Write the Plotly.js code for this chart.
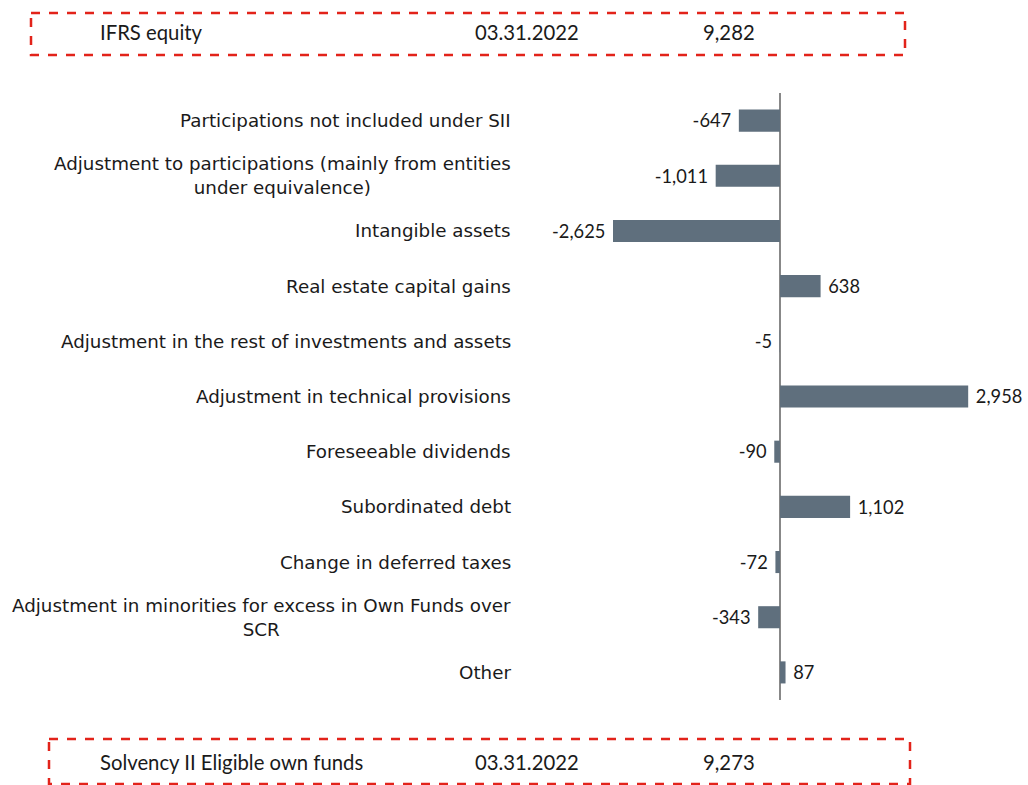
<!DOCTYPE html>
<html><head><meta charset="utf-8">
<script src="https://cdn.plot.ly/plotly-3.0.1.min.js"></script>
<style>html,body{margin:0;padding:0;background:#fff}#chart{width:1028px;height:785px}</style>
</head><body><div id="chart"></div>
<script>
const categories = [
  "Participations not included under SII",
  "Adjustment to participations (mainly from entities<br>under equivalence)",
  "Intangible assets",
  "Real estate capital gains",
  "Adjustment in the rest of investments and assets",
  "Adjustment in technical provisions",
  "Foreseeable dividends",
  "Subordinated debt",
  "Change in deferred taxes",
  "Adjustment in minorities for excess in Own Funds over<br>SCR",
  "Other"
];
const values = [-647, -1011, -2625, 638, -5, 2958, -90, 1102, -72, -343, 87];
const valueLabels = ["-647", "-1,011", "-2,625", "638", "-5", "2,958", "-90", "1,102", "-72", "-343", "87"];

const topBoxLabels = ["IFRS equity", "03.31.2022", "9,282"];
const bottomBoxLabels = ["Solvency II Eligible own funds", "03.31.2022", "9,273"];

// layout geometry (pixels)
const W = 1028, H = 785;
const mL = 540, mR = 40, mT = 93, mB = 85;
const pw = W - mL - mR, ph = H - mT - mB;
const px = x => (x - mL) / pw;
const py = y => (H - mB - y) / ph;

const labelFont = {family: "DejaVu Sans", size: 18.3, color: "#1a1a1a"};
const numFont = {family: "Lato, sans-serif", size: 21.5, color: "#1a1a1a"};
const boxFont = {family: "Lato, sans-serif", size: 20.3, color: "#1a1a1a"};

const annotations = categories.map((c, i) => ({
  xref: "paper", yref: "y", x: px(513), y: c, text: c,
  xanchor: "right", yanchor: "middle", align: "center",
  showarrow: false, font: labelFont
}));

const boxTextX = [100, 475, 703];
topBoxLabels.forEach((t, i) => annotations.push({
  xref: "paper", yref: "paper", x: px(boxTextX[i] - 2), y: py(32), text: t,
  xanchor: "left", yanchor: "middle", showarrow: false, font: boxFont
}));
bottomBoxLabels.forEach((t, i) => annotations.push({
  xref: "paper", yref: "paper", x: px(boxTextX[i] - 2), y: py(762), text: t,
  xanchor: "left", yanchor: "middle", showarrow: false, font: boxFont
}));

const dash = {color: "#e2231a", width: 2.5, dash: "dash"};
const shapes = [
  {type: "rect", xref: "paper", yref: "paper", x0: px(31), x1: px(905), y0: py(13), y1: py(55), line: dash},
  {type: "rect", xref: "paper", yref: "paper", x0: px(49), x1: px(910), y0: py(739), y1: py(784), line: dash}
];

const pad = "\u00a0";
const trace = {
  type: "bar", orientation: "h",
  x: values, y: categories,
  text: valueLabels.map((t, i) => values[i] < 0 ? t + pad : pad + t),
  textposition: "outside", cliponaxis: false,
  textfont: numFont,
  marker: {color: "#5f6f7d"},
  hoverinfo: "none"
};

const layout = {
  width: W, height: H,
  margin: {l: mL, r: mR, t: mT, b: mB, pad: 0},
  paper_bgcolor: "#fff", plot_bgcolor: "#fff",
  showlegend: false,
  bargap: 0.6,
  xaxis: {
    range: [(mL - 780) / 0.06362, (mL + pw - 780) / 0.06362],
    showgrid: false, showticklabels: false, ticks: "",
    zeroline: true, zerolinecolor: "#888888", zerolinewidth: 1.5, showline: false
  },
  yaxis: {
    autorange: "reversed", showticklabels: false, ticks: "",
    showgrid: false, zeroline: false, showline: false
  },
  annotations: annotations,
  shapes: shapes
};

Plotly.newPlot("chart", [trace], layout, {displayModeBar: false, staticPlot: true});
</script>
</body></html>
